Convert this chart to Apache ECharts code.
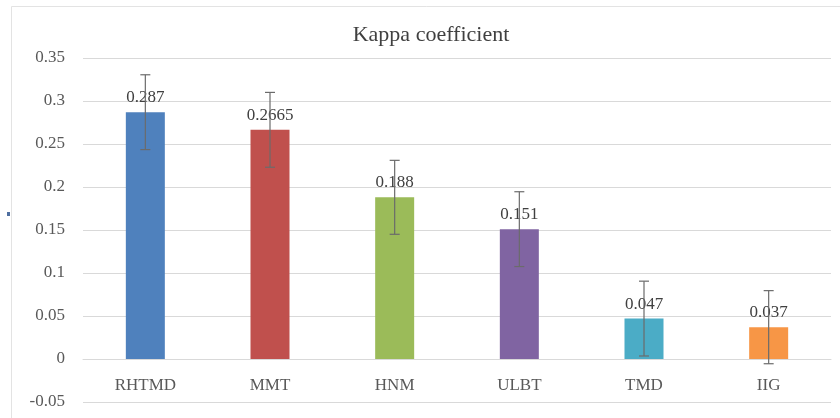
<!DOCTYPE html>
<html>
<head>
<meta charset="utf-8">
<script src="https://cdn.jsdelivr.net/npm/echarts@6.0.0/dist/echarts.min.js"></script>
<style>
  html, body { margin: 0; padding: 0; background: #fff; }
  #chart { width: 840px; height: 418px; }
</style>
</head>
<body>
<div id="chart"></div>
<script>
// data
const categories = ['RHTMD', 'MMT', 'HNM', 'ULBT', 'TMD', 'IIG'];
const kappa = [0.287, 0.2665, 0.188, 0.151, 0.047, 0.037];
const errors = [0.0435, 0.0435, 0.043, 0.0435, 0.0435, 0.0425];
const barColors = ['#4F81BD', '#C0504D', '#9BBB59', '#8064A2', '#4BACC6', '#F79646'];

const serif = '"Liberation Serif", "DejaVu Serif", serif';
const textGray = '#595959';

const chart = echarts.init(document.getElementById('chart'));

const errorData = categories.map((c, i) => [i, kappa[i] - errors[i], kappa[i] + errors[i]]);

const option = {
    backgroundColor: '#fff',
    animation: false,
    title: {
        text: 'Kappa coefficient',
        left: 426,
        top: 19,
        textAlign: 'center',
        textStyle: {
            fontFamily: serif,
            fontWeight: 'normal',
            fontSize: 22,
            color: '#404040',
        },
    },
    grid: {
        left: 83,
        right: 9,
        top: 58,
        bottom: 16,
        containLabel: false,
        outerBoundsMode: 'none',
    },
    xAxis: {
        type: 'category',
        data: categories,
        axisLine: { lineStyle: { color: '#d9d9d9' } },
        axisTick: { show: false },
        // labels sit between the 0 and -0.05 lines, like the original
        axisLabel: {
            fontFamily: serif,
            fontSize: 17,
            color: textGray,
            margin: -25,
        },
    },
    yAxis: {
        type: 'value',
        min: -0.05,
        max: 0.35,
        interval: 0.05,
        axisLine: { show: false },
        axisTick: { show: false },
        splitLine: { lineStyle: { color: '#d9d9d9', width: 1 } },
        axisLabel: {
            fontFamily: serif,
            fontSize: 17,
            color: textGray,
            margin: 18,
            formatter: (v) => String(Math.round(v * 100) / 100),
        },
    },
    series: [
        {
            type: 'bar',
            barWidth: 39,
            data: kappa.map((v, i) => ({ value: v, itemStyle: { color: barColors[i] } })),
            label: {
                show: true,
                position: 'top',
                distance: 6,
                fontFamily: serif,
                fontSize: 17,
                color: '#404040',
            },
        },
        {
            type: 'custom',
            z: 5,
            data: errorData,
            renderItem: (params, api) => {
                const x = api.value(0);
                const top = api.coord([x, api.value(2)]);
                const bot = api.coord([x, api.value(1)]);
                const half = 5;
                const style = { stroke: '#6b6b6b', lineWidth: 1.2 };
                return {
                    type: 'group',
                    children: [
                        { type: 'line', shape: { x1: top[0], y1: top[1], x2: bot[0], y2: bot[1] }, style },
                        { type: 'line', shape: { x1: top[0] - half, y1: top[1], x2: top[0] + half, y2: top[1] }, style },
                        { type: 'line', shape: { x1: bot[0] - half, y1: bot[1], x2: bot[0] + half, y2: bot[1] }, style },
                    ],
                };
            },
        },
    ],
    graphic: [
        {
            type: 'rect',
            shape: { x: 11.5, y: 6.5, width: 840, height: 420 },
            style: { fill: 'none', stroke: '#e3e3e3', lineWidth: 1 },
            silent: true,
        },
        {
            type: 'rect',
            shape: { x: 7, y: 212, width: 3, height: 4 },
            style: { fill: '#4F6FA0' },
            silent: true,
        },
    ],
};

chart.setOption(option);
window.addEventListener('resize', () => chart.resize());
</script>
</body>
</html>
